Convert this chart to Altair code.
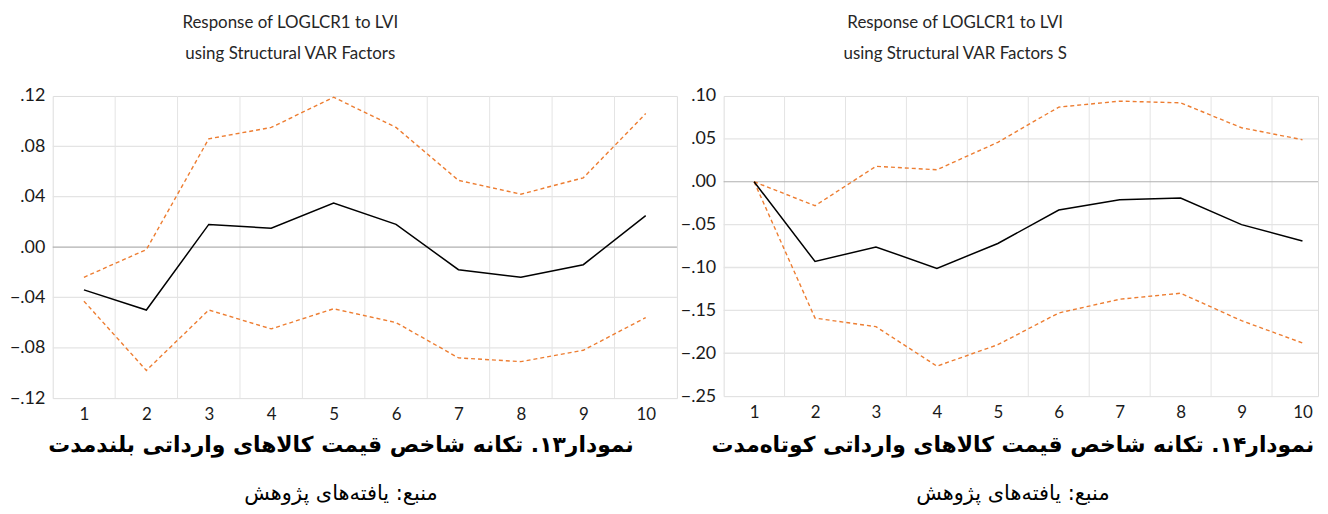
import altair as alt
import pandas as pd

# ---------------- data ----------------
periods = [1, 2, 3, 4, 5, 6, 7, 8, 9, 10]

# Panel 13 (long run)
left_resp = [-0.034, -0.050, 0.018, 0.015, 0.035, 0.018, -0.018, -0.024, -0.014, 0.025]
left_upper = [-0.024, -0.002, 0.086, 0.095, 0.119, 0.095, 0.053, 0.042, 0.055, 0.106]
left_lower = [-0.043, -0.098, -0.050, -0.065, -0.049, -0.060, -0.088, -0.091, -0.082, -0.056]
left_ticks = [-0.12, -0.08, -0.04, 0.0, 0.04, 0.08, 0.12]

# Panel 14 (short run)
right_resp = [0.0, -0.093, -0.076, -0.101, -0.072, -0.033, -0.021, -0.019, -0.050, -0.069]
right_upper = [0.0, -0.028, 0.018, 0.014, 0.046, 0.087, 0.094, 0.092, 0.063, 0.049]
right_lower = [0.0, -0.159, -0.169, -0.215, -0.190, -0.153, -0.137, -0.130, -0.162, -0.188]
right_ticks = [-0.25, -0.20, -0.15, -0.10, -0.05, 0.0, 0.05, 0.10]

left_title = ["Response of LOGLCR1 to LVI", "using Structural VAR Factors"]
right_title = ["Response of LOGLCR1 to LVI", "using Structural VAR Factors S"]
left_caption = "نمودار۱۳. تکانه شاخص قیمت کالاهای وارداتی بلندمدت"
right_caption = "نمودار۱۴. تکانه شاخص قیمت کالاهای وارداتی کوتاه\u200cمدت"
source_text = "منبع: یافته\u200cهای پژوهش"

# ---------------- styles ----------------
ORANGE = "#ED7D31"
GRID = "#e4e4e4"
ZERO = "#b0b0b0"
FONT = "Lato"
AR_FONT = "DejaVu Sans"


def panel(resp, upper, lower, ticks, width, height, xmax, titles, caption,
          title_x, caption_x):
    xs = alt.Scale(domain=[0.5, xmax], nice=False, zero=False)
    ys = alt.Scale(domain=[ticks[0], ticks[-1]], nice=False, zero=False)
    xaxis = alt.Axis(values=periods, grid=False, ticks=False, tickSize=0, domain=False,
                     labelPadding=8, labelFontSize=17, labelFont=FONT, labelColor="#1a1a1a",
                     title=None, labelAngle=0)
    yaxis = alt.Axis(values=ticks, grid=False, ticks=False, tickSize=0, domain=False,
                     labelPadding=8, labelFontSize=18, labelFont=FONT, labelColor="#1a1a1a",
                     title=None,
                     labelExpr="replace(format(datum.value, '.2f'), '0.', '.')")

    bounds = pd.DataFrame({"b": [p + 0.5 for p in periods[:-1]]})
    inner = pd.DataFrame({"t": [t for t in ticks[1:-1] if t != 0]})
    zero = pd.DataFrame({"t": [0.0]})

    lines = pd.DataFrame({
        "period": periods * 3,
        "value": resp + upper + lower,
        "series": ["resp"] * 10 + ["upper"] * 10 + ["lower"] * 10,
    })

    resp_layer = alt.Chart(lines).transform_filter("datum.series == 'resp'").mark_line(
        color="#000000", strokeWidth=1.5).encode(
        x=alt.X("period:Q", scale=xs, axis=xaxis),
        y=alt.Y("value:Q", scale=ys, axis=yaxis),
    )
    vgrid = alt.Chart(bounds).mark_rule(color=GRID, strokeWidth=1).encode(
        x=alt.X("b:Q", scale=xs, axis=xaxis), y=alt.value(0), y2=alt.value(height))
    hgrid = alt.Chart(inner).mark_rule(color=GRID, strokeWidth=1.3).encode(
        y=alt.Y("t:Q", scale=ys, axis=yaxis), x=alt.value(0), x2=alt.value(width))
    zline = alt.Chart(zero).mark_rule(color=ZERO, strokeWidth=1.2).encode(
        y=alt.Y("t:Q", scale=ys, axis=yaxis), x=alt.value(0), x2=alt.value(width))
    band = alt.Chart(lines).transform_filter("datum.series != 'resp'").mark_line(
        color=ORANGE, strokeWidth=1.4, strokeDash=[4, 3]).encode(
        x=alt.X("period:Q", scale=xs, axis=xaxis),
        y=alt.Y("value:Q", scale=ys, axis=yaxis),
        detail="series:N",
    )

    t1 = alt.Chart(pd.DataFrame({"s": [titles[0]]})).mark_text(
        font=FONT, fontSize=17, color="#262626", align="center", baseline="middle").encode(
        text="s:N", x=alt.value(title_x), y=alt.value(-73))
    t2 = alt.Chart(pd.DataFrame({"s": [titles[1]]})).mark_text(
        font=FONT, fontSize=17, color="#262626", align="center", baseline="middle").encode(
        text="s:N", x=alt.value(title_x), y=alt.value(-42))
    cap = alt.Chart(pd.DataFrame({"s": [caption]})).mark_text(
        font=AR_FONT, fontSize=22, fontWeight="bold", color="#000000", align="center",
        baseline="middle", dir="rtl").encode(
        text="s:N", x=alt.value(caption_x), y=alt.value(351))
    src = alt.Chart(pd.DataFrame({"s": [source_text]})).mark_text(
        font=AR_FONT, fontSize=21, color="#000000", align="center",
        baseline="middle", dir="rtl").encode(
        text="s:N", x=alt.value(caption_x), y=alt.value(400))

    return alt.layer(vgrid, hgrid, zline, band, resp_layer, t1, t2, cap, src).properties(
        width=width, height=height)


left = panel(left_resp, left_upper, left_lower, left_ticks, 628, 304, 10.5,
             left_title, left_caption, 239, 290)
right = panel(right_resp, right_upper, right_lower, right_ticks, 598, 302, 10.255,
              right_title, right_caption, 233, 291)

chart = alt.hconcat(left, right, spacing=0).properties(
    padding={"left": 0, "top": 4, "right": 0, "bottom": 0}
).configure_view(stroke=None).configure(background="white")

chart.save("out.html", embed_options={"renderer": "svg", "actions": False})
